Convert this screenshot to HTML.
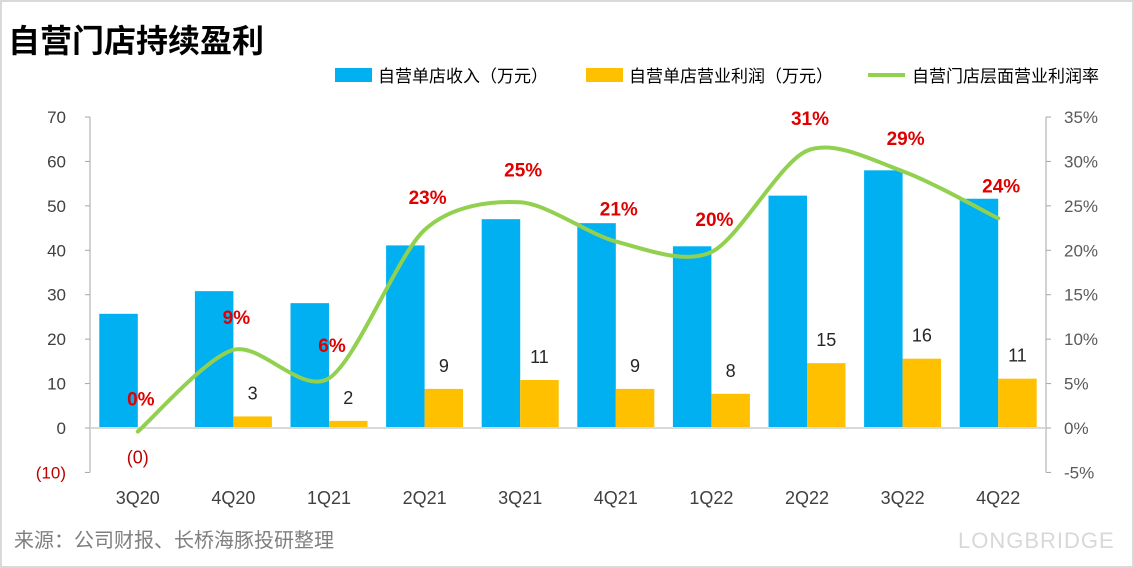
<!DOCTYPE html>
<html><head><meta charset="utf-8"><style>
html,body{margin:0;padding:0;background:#fff}
body{width:1134px;height:568px;overflow:hidden;position:relative;font-family:"Liberation Sans","Noto Sans CJK SC",sans-serif}
.frame{position:absolute;left:0;top:0;width:1130px;height:564px;border:2px solid #d9d9d9}
</style></head><body>
<div class="frame"></div>
<svg id="chart" width="1134" height="568" style="position:absolute;left:0;top:0">
<text x="8" y="52" font-size="32" font-weight="bold" fill="#000" font-family="Liberation Sans,Noto Sans CJK SC,sans-serif">自营门店持续盈利</text>
<g font-size="17" fill="#000" font-family="Liberation Sans,Noto Sans CJK SC,sans-serif">
<rect x="335" y="68" width="37" height="14" fill="#00b0f0"/>
<text x="378" y="82">自营单店收入（万元）</text>
<rect x="586" y="68" width="37" height="14" fill="#ffc000"/>
<text x="629" y="82">自营单店营业利润（万元）</text>
<line x1="868" y1="75" x2="905" y2="75" stroke="#92d050" stroke-width="4"/>
<text x="912" y="82">自营门店层面营业利润率</text>
</g>
<text x="14" y="547" font-size="20" fill="#7f7f7f" font-family="Liberation Sans,Noto Sans CJK SC,sans-serif">来源：公司财报、长桥海豚投研整理</text>
<text x="958" y="548" font-size="22" fill="#d8d8d8" letter-spacing="1">LONGBRIDGE</text>
<g id="plot"></g>
</svg>
<script>
const categories=["3Q20","4Q20","1Q21","2Q21","3Q21","4Q21","1Q22","2Q22","3Q22","4Q22"];
const revenue=[25.7,30.8,28.1,41.1,47.0,46.1,40.9,52.3,58.0,51.6];
const profit=[-0.1,2.6,1.6,8.8,10.8,8.8,7.7,14.6,15.6,11.1];
const profitLabels=["(0)","3","2","9","11","9","8","15","16","11"];
const margin=[-0.4,8.8,5.6,22.3,25.4,21.0,19.8,31.2,28.9,23.6];
const marginLabels=["0%","9%","6%","23%","25%","21%","20%","31%","29%","24%"];
const leftTicks=[-10,0,10,20,30,40,50,60,70];
const leftTickLabels=["(10)","0","10","20","30","40","50","60","70"];
const rightTicks=[-5,0,5,10,15,20,25,30,35];
const rightTickLabels=["-5%","0%","5%","10%","15%","20%","25%","30%","35%"];

const NS="http://www.w3.org/2000/svg";
const g=document.getElementById('plot');
const X0=90,X1=1046,Y0=428;
const yL=v=>Y0-v*311/70;
const yR=v=>Y0-v*311/35;
const step=(X1-X0)/categories.length;
const xc=i=>X0+step*(i+0.5);
const BW=38.5;
function mk(t,a,txt){const e=document.createElementNS(NS,t);for(const k in a)e.setAttribute(k,a[k]);if(txt!=null)e.textContent=txt;g.appendChild(e);return e;}
const F="Liberation Sans,Noto Sans CJK SC,sans-serif";
let e=mk('line',{x1:X0,y1:yL(70),x2:X0,y2:yL(-10),stroke:'#a6a6a6','stroke-width':1});


e=mk('line',{x1:X1,y1:yR(35),x2:X1,y2:yR(-5),stroke:'#a6a6a6','stroke-width':1});


leftTicks.forEach((v,i)=>{
 mk('line',{x1:X0-5,y1:yL(v),x2:X0,y2:yL(v),stroke:'#a6a6a6'});
 e=mk('text',{x:66,y:yL(v)+6,'text-anchor':'end','font-size':17,fill:v<0?'#c00000':'#404040','font-family':F},leftTickLabels[i]);
 
 
});
rightTicks.forEach((v,i)=>{
 mk('line',{x1:X1,y1:yR(v),x2:X1+5,y2:yR(v),stroke:'#a6a6a6'});
 e=mk('text',{x:1064,y:yR(v)+6,'font-size':17,fill:'#595959','font-family':F},rightTickLabels[i]);
 
 
});
categories.forEach((c,i)=>{
 const x=xc(i);
 let b=mk('rect',{x:x-BW,y:Math.min(yL(revenue[i]),Y0),width:BW,height:Math.abs(Y0-yL(revenue[i])),fill:'#00b0f0'});
 
 
 b=mk('rect',{x:x,y:Math.min(yL(profit[i]),Y0),width:BW,height:Math.abs(Y0-yL(profit[i])),fill:'#ffc000'});
 
 
 const neg=profit[i]<0;
 b=mk('text',{x:neg?x:x+BW/2,y:neg?yL(profit[i])+35:yL(profit[i])-17,'text-anchor':'middle','font-size':18,fill:neg?'#c00000':'#262626','font-family':F},profitLabels[i]);
 
 
 b=mk('text',{x:x,y:504,'text-anchor':'middle','font-size':18,fill:'#404040','font-family':F},c);
 
 
});
e=mk('line',{x1:X0,y1:Y0,x2:X1,y2:Y0,stroke:'#d9d9d9','stroke-width':2});


const pts=margin.map((v,i)=>[xc(i),yR(v)]);
let d='M'+pts[0][0]+','+pts[0][1];
for(let i=0;i<pts.length-1;i++){
 const p0=pts[Math.max(i-1,0)],p1=pts[i],p2=pts[i+1],p3=pts[Math.min(i+2,pts.length-1)];
 const t=1/7;
 d+=' C'+(p1[0]+(p2[0]-p0[0])*t)+','+(p1[1]+(p2[1]-p0[1])*t)+' '+(p2[0]-(p3[0]-p1[0])*t)+','+(p2[1]-(p3[1]-p1[1])*t)+' '+p2[0]+','+p2[1];
}
e=mk('path',{d:d,fill:'none',stroke:'#92d050','stroke-width':4,'stroke-linecap':'round'});


margin.forEach((v,i)=>{
 const t=mk('text',{x:xc(i)+3,y:yR(v)-26,'text-anchor':'middle','font-size':19,'font-weight':'bold',fill:'#e00000','font-family':F},marginLabels[i]);
 
 
});
</script>
</body></html>
